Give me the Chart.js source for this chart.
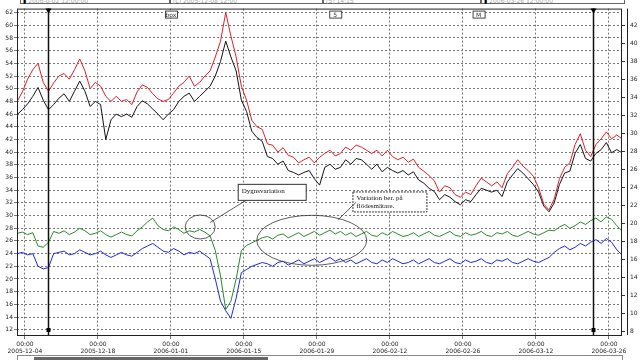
<!DOCTYPE html>
<html>
<head>
<meta charset="utf-8">
<script src="https://cdn.jsdelivr.net/npm/chart.js@4"></script>
<style>
  body { margin: 0; background: #fff; }
  #wrap { position: relative; width: 640px; height: 360px; overflow: hidden; }
  .hbox { position: absolute; top: -5px; height: 9px; border: 1px solid #666; background: #fff;
          font: 6px "DejaVu Sans"; color: #aaa; line-height: 10px; padding-left: 2px; box-sizing: border-box; }
  #scroll { position: absolute; left: 17px; top: 355px; width: 606px; height: 8px; border: 1px solid #888; box-sizing: border-box; }
  #thumb { position: absolute; left: 16px; top: 1px; width: 234px; height: 5px; background: #666; }
</style>
</head>
<body>
<div id="wrap">
  <canvas id="myChart" width="640" height="360"></canvas>
  <div class="hbox" style="left:20px;width:150px"><b style="color:#000">&#9646;</b> 2006-0-02 12:00:00</div>
  <div class="hbox" style="left:170px;width:153px">[L] 2005-12-08 12:00</div>
  <div class="hbox" style="left:323px;width:158px">[5] 14:15</div>
  <div class="hbox" style="left:481px;width:144px"><b style="color:#000">&#9646;</b> 2006-03-26 12:00:00</div>
  <div id="scroll"><div id="thumb"></div></div>
</div>
<script>
// x = days since 2005-12-04 00:00, one reading per day
const days = [-1.5, -0.5, 0.5, 1.5, 2.5, 3.5, 4.5, 5.5, 6.5, 7.5, 8.5, 9.5, 10.5, 11.5, 12.5, 13.5,
  14.5, 15.5, 16.5, 17.5, 18.5, 19.5, 20.5, 21.5, 22.5, 23.5, 24.5, 25.5, 26.5, 27.5, 28.5, 29.5,
  30.5, 31.5, 32.5, 33.5, 34.5, 35.5, 36.5, 37.5, 38.5, 39.5, 40.5, 41.5, 42.5, 43.5, 44.5, 45.5,
  46.5, 47.5, 48.5, 49.5, 50.5, 51.5, 52.5, 53.5, 54.5, 55.5, 56.5, 57.5, 58.5, 59.5, 60.5, 61.5,
  62.5, 63.5, 64.5, 65.5, 66.5, 67.5, 68.5, 69.5, 70.5, 71.5, 72.5, 73.5, 74.5, 75.5, 76.5, 77.5,
  78.5, 79.5, 80.5, 81.5, 82.5, 83.5, 84.5, 85.5, 86.5, 87.5, 88.5, 89.5, 90.5, 91.5, 92.5, 93.5,
  94.5, 95.5, 96.5, 97.5, 98.5, 99.5, 100.5, 101.5, 102.5, 103.5, 104.5, 105.5, 106.5, 107.5, 108.5, 109.5,
  110.5, 111.5, 112.5, 113.5, 114.5];

const red = [48, 49.5, 51.5, 53, 54, 51, 49.6, 50.9, 52, 52.4, 51.5, 53, 54.7, 52.8, 50, 51,
  50.4, 48.8, 48, 48.8, 48, 48.3, 47.5, 49.5, 50.6, 50.2, 49.2, 48.4, 48, 48.3, 49.3, 50.4,
  51, 52, 50.4, 51, 52, 52.8, 55, 57.5, 62, 58.3, 55, 50.4, 48.2, 45, 44, 43.6,
  41.3, 41.1, 40, 40.7, 39.5, 39.2, 38.3, 38.8, 39.2, 38.3, 39.2, 39.8, 40.3, 39.4, 39.8, 40.8,
  40.3, 41.1, 40.8, 40.3, 39.8, 40.3, 39.4, 40.3, 39.3, 38.8, 39.2, 38.4, 38.9, 37.6, 37, 36.3,
  35.5, 33.7, 34.7, 34.4, 33.3, 32.9, 33.7, 33.3, 34.7, 35.9, 35.3, 34.7, 35.3, 34.4, 36.6, 37.6,
  38.8, 37.8, 37.1, 36.2, 34.4, 31.8, 30.9, 32.6, 35.8, 37.6, 38.3, 41.2, 42.9, 40.3, 39.3, 41.2,
  42.1, 43.2, 42.1, 42.7, 42.1];
const black = [45.9, 46.7, 47.6, 48.8, 50.2, 48.2, 46.7, 47.5, 48.5, 49.2, 48, 49.6, 51.2, 49.6, 47.2, 48,
  47.5, 42, 45.1, 46, 45.6, 46, 45.5, 47.2, 48.1, 47.6, 46.8, 46, 45.1, 46, 46.7, 48,
  48.8, 49.3, 48, 48.8, 49.6, 50.4, 52, 54.3, 57.5, 55, 52.8, 48.2, 46.4, 43.3, 42.3, 41.7,
  39.3, 39, 38.1, 38.6, 37.1, 36.8, 36.4, 36.8, 37.1, 35.8, 34.8, 37.6, 38.1, 37.3, 37.6, 38.8,
  38.1, 39, 38.8, 38.1, 37.3, 38.1, 36.9, 37.6, 37.1, 36.7, 37.1, 36.4, 36.9, 35.6, 35.1, 34.3,
  33.8, 32.5, 33.3, 32.9, 32.2, 31.7, 32.5, 32.2, 33.3, 34.3, 34, 33.7, 34, 33, 35.3, 36.4,
  37.4, 36.7, 35.8, 34.9, 33.7, 31.5, 30.6, 32, 34.9, 36.7, 37, 39.8, 41.2, 39, 38.6, 39.8,
  40.4, 41.5, 39.9, 40.4, 39.9];
const green = [27.2, 27.4, 27, 27.3, 25.2, 25, 25.8, 27.5, 27.2, 27.6, 27, 27.4, 28, 27.6, 27, 27.2,
  27.6, 27, 26.6, 27, 27.4, 27, 26.8, 27.6, 28.2, 29, 29.6, 28.4, 27.8, 27.6, 28.2, 27.8,
  27.2, 27.6, 27.4, 27.8, 27.4, 26.8, 24.5, 20.5, 15.2, 16.5, 20, 24.5, 25.3, 25.7, 26.1, 26.5,
  26.7, 26.3, 26.9, 27.1, 26.5, 26.9, 27.3, 26.7, 27.1, 27.5, 26.9, 27.3, 27.7, 27.1, 27.5, 26.9,
  27.3, 26.7, 27.1, 27.5, 26.9, 26.7, 27.3, 26.9, 27.5, 27.1, 26.7, 26.9, 27.3, 26.7, 27.1, 27.5,
  26.9, 26.7, 27.1, 27.5, 26.9, 26.7, 27.3, 26.9, 27.1, 27.5, 26.9, 26.7, 27.3, 27.1, 27.5, 26.9,
  26.7, 27.1, 27.5, 27.1, 26.9, 27.3, 27.7, 27.6, 28.2, 28.6, 28, 28.4, 29, 28.6, 29.2, 29.6,
  29, 29.8, 29.4, 28.4, 27.6];
const blue = [24, 24.2, 23.8, 24, 22, 21.6, 21.8, 24, 24.2, 24.4, 23.8, 24, 24.6, 24.2, 23.8, 24,
  24.4, 23.8, 23.4, 23.8, 24.2, 23.8, 23.6, 24.2, 24.8, 25.2, 25.6, 25, 24.4, 24.2, 24.8, 24.4,
  23.8, 24.2, 24, 24.4, 23.8, 23.2, 20, 16.5, 15, 13.8, 17, 21, 21.5, 22, 22.3, 22.6,
  22.4, 22, 22.6, 22.8, 22.2, 22.6, 23, 22.4, 22.8, 23.2, 22.6, 23, 23.4, 22.8, 23.2, 22.6,
  23, 22.4, 22.8, 23.2, 22.6, 22.4, 23, 22.6, 23.2, 22.8, 22.4, 22.6, 23, 22.4, 22.8, 23.2,
  22.6, 22.4, 22.8, 23.2, 22.6, 22.4, 23, 22.6, 22.8, 23.2, 22.6, 22.4, 23, 22.8, 23.2, 22.6,
  22.4, 22.8, 23.2, 22.8, 22.6, 23, 23.4, 24.2, 24.8, 25.2, 24.6, 25, 25.6, 25.2, 25.8, 26.2,
  25.6, 26.4, 25.8, 24.6, 23.8];

const tickDays = [0, 14, 28, 42, 56, 70, 84, 98, 112];
const tickDates = ["2005-12-04", "2005-12-18", "2006-01-01", "2006-01-15", "2006-01-29",
  "2006-02-12", "2006-02-26", "2006-03-12", "2006-03-26"];
const leftTicks = [12, 14, 16, 18, 20, 22, 24, 26, 28, 30, 32, 34, 36, 38, 40, 42, 44, 46, 48, 50, 52, 54, 56, 58, 60, 62];
const rightTicks = [8, 10, 12, 14, 16, 18, 20, 22, 24, 26, 28, 30, 32, 34, 36, 38, 40, 42];
const cursorDays = [4.4, 108.9];

function pts(ys) {
  return ys.map((y, i) => ({ x: days[i], y: y }));
}

// cursors, frame, notes
const extras = {
  id: "extras",
  afterDraw(chart) {
    const ctx = chart.ctx;
    const x = chart.scales.x, y = chart.scales.y;
    const a = chart.chartArea;
    ctx.save();
    // frame
    ctx.strokeStyle = "#222";
    ctx.lineWidth = 1;
    ctx.strokeRect(a.left + 0.5, a.top + 0.5, a.right - a.left - 1, a.bottom - a.top);
    ctx.beginPath();
    ctx.moveTo(627.5, a.top);
    ctx.lineTo(627.5, a.bottom);
    ctx.stroke();
    // cursor lines
    cursorDays.forEach((d) => {
      const px = Math.round(x.getPixelForValue(d)) + 0.5;
      ctx.strokeStyle = "#111";
      ctx.lineWidth = 1.5;
      ctx.beginPath();
      ctx.moveTo(px, a.top);
      ctx.lineTo(px, a.bottom);
      ctx.stroke();
      ctx.fillStyle = "#000";
      ctx.beginPath();
      ctx.moveTo(px - 3, a.top);
      ctx.lineTo(px + 3, a.top);
      ctx.lineTo(px, a.top + 5);
      ctx.fill();
      ctx.fillRect(px - 2, a.bottom - 7, 4, 4);
    });
    // little tags at top
    ctx.font = "6px DejaVu Sans";
    ctx.lineWidth = 1;
    [[28, "box"], [59.5, "5"], [87, "M"]].forEach(([d, t]) => {
      const px = x.getPixelForValue(d);
      ctx.fillStyle = "#fff";
      ctx.fillRect(px - 6, a.top + 2, 12, 7);
      ctx.strokeStyle = "#444";
      ctx.strokeRect(px - 6 + 0.5, a.top + 2.5, 12, 7);
      ctx.fillStyle = "#333";
      ctx.textAlign = "center";
      ctx.fillText(t, px, a.top + 8);
    });
    // annotation boxes
    const note = (d, v, w, h, lines, dashed) => {
      const px = x.getPixelForValue(d), py = y.getPixelForValue(v);
      ctx.fillStyle = "#fff";
      ctx.fillRect(px, py, w, h);
      ctx.strokeStyle = "#333";
      ctx.setLineDash(dashed ? [2, 1] : []);
      ctx.strokeRect(px + 0.5, py + 0.5, w, h);
      ctx.setLineDash([]);
      ctx.fillStyle = "#111";
      ctx.textAlign = "left";
      ctx.font = "7px 'Liberation Serif'";
      lines.forEach((l, i) => ctx.fillText(l, px + 4, py + 9 + i * 8));
    };
    note(40.8, 35, 68, 16, ["Dygnsvariation"], false);
    note(62.8, 33.8, 74, 20, ["Variation ber. på", "flödesmätare."], true);
    // ellipses + leader lines
    ctx.strokeStyle = "#333";
    ctx.lineWidth = 0.8;
    const ell = (d, v, rx, ry) => {
      ctx.beginPath();
      ctx.ellipse(x.getPixelForValue(d), y.getPixelForValue(v), rx, ry, 0, 0, Math.PI * 2);
      ctx.stroke();
    };
    ell(33.6, 28.2, 15, 12);
    ell(55, 26.1, 55, 25);
    const line = (d1, v1, d2, v2) => {
      ctx.beginPath();
      ctx.moveTo(x.getPixelForValue(d1), y.getPixelForValue(v1));
      ctx.lineTo(x.getPixelForValue(d2), y.getPixelForValue(v2));
      ctx.stroke();
    };
    line(42.4, 32.4, 35.5, 28.9);
    line(63.5, 32.1, 60, 29.3);
    ctx.restore();
  },
};

const data = {
  datasets: [
    { label: "Red", data: pts(red), borderColor: "rgb(230, 30, 40)", borderWidth: 1, pointRadius: 0 },
    { label: "Black", data: pts(black), borderColor: "rgb(20, 20, 20)", borderWidth: 1, pointRadius: 0 },
    { label: "Green", data: pts(green), borderColor: "rgb(40, 140, 40)", borderWidth: 1, pointRadius: 0 },
    { label: "Blue", data: pts(blue), borderColor: "rgb(30, 40, 230)", borderWidth: 1, pointRadius: 0 },
  ],
};

const gridStyle = { color: "#777", lineWidth: 1 };
const config = {
  type: "line",
  data: data,
  options: {
    responsive: false,
    animation: false,
    layout: { padding: { top: 8, left: 0, right: 0, bottom: 0 } },
    scales: {
      x: {
        type: "linear",
        min: -1.53,
        max: 114.5,
        afterBuildTicks: (s) => { s.ticks = tickDays.map((v) => ({ value: v })); },
        afterFit: (s) => { s.height = 25; },
        ticks: {
          color: "#222",
          font: { size: 6, family: "DejaVu Sans" },
          maxRotation: 0,
          autoSkip: false,
          padding: 2,
          callback: (v, i) => ["00:00", tickDates[i]],
        },
        grid: { ...gridStyle, tickLength: 4 },
        border: { dash: [2, 2], display: false },
      },
      y: {
        position: "left",
        min: 11.17,
        max: 62.63,
        afterBuildTicks: (s) => { s.ticks = leftTicks.map((v) => ({ value: v })); },
        afterFit: (s) => { s.width = 17; },
        ticks: { color: "#222", font: { size: 6, family: "DejaVu Sans" }, padding: 1 },
        grid: { ...gridStyle, tickLength: 3 },
        border: { dash: [2, 2], display: false },
      },
      y2: {
        position: "right",
        min: 7.56,
        max: 43.89,
        afterBuildTicks: (s) => { s.ticks = rightTicks.map((v) => ({ value: v })); },
        afterFit: (s) => { s.width = 18; },
        ticks: { color: "#222", font: { size: 6, family: "DejaVu Sans" }, padding: 5 },
        grid: { drawOnChartArea: false, tickLength: 3, color: "#333" },
        border: { display: false },
      },
    },
    plugins: {
      legend: { display: false },
      tooltip: { enabled: false },
    },
  },
  plugins: [extras],
};
myChart = new Chart(document.getElementById("myChart"), config);
</script>
</body>
</html>
